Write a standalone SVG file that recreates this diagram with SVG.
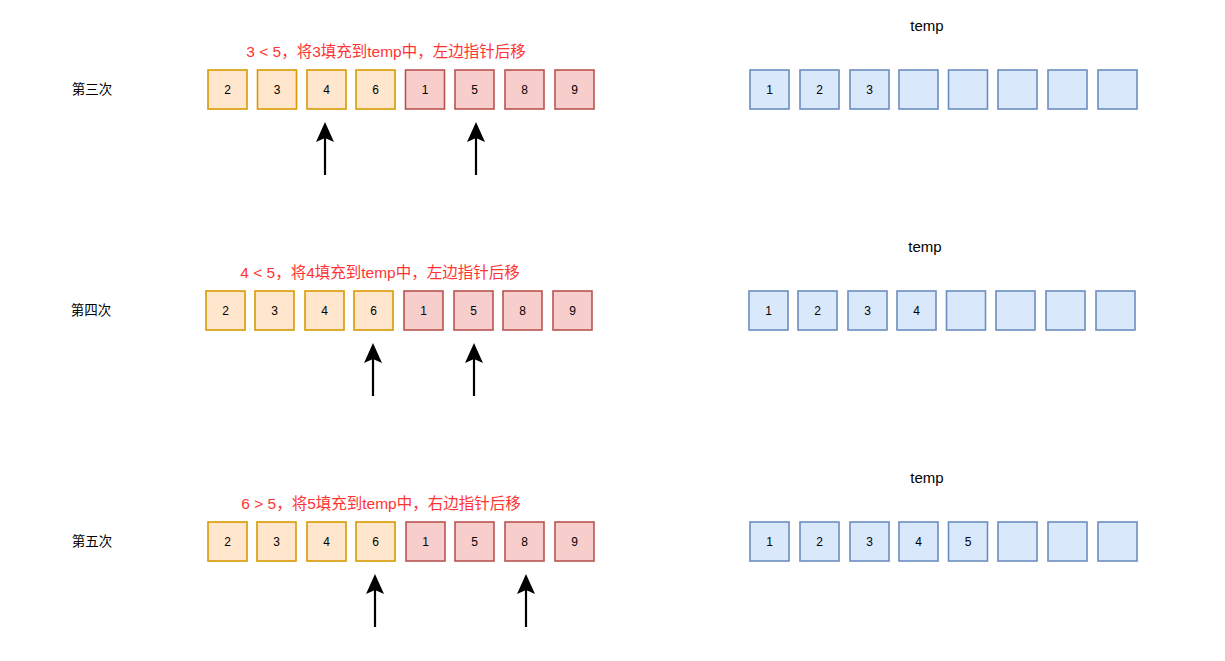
<svg xmlns="http://www.w3.org/2000/svg" width="1225" height="661" viewBox="0 0 1225 661">
<defs>
<style>
.o{fill:#ffe6cc;stroke:#d79b00;stroke-width:1.6}
.r{fill:#f8cecc;stroke:#b85450;stroke-width:1.6}
.b{fill:#dae8fc;stroke:#6c8ebf;stroke-width:1.6}
.t{font-family:"Liberation Sans",Arial,sans-serif;font-size:12px;fill:#000;text-anchor:middle;dominant-baseline:central}
.lbl{font-family:"Liberation Sans","Noto Sans CJK SC",sans-serif;font-size:13.5px;fill:#000;text-anchor:middle;dominant-baseline:central}
.red{font-family:"Liberation Sans","Noto Sans CJK SC",sans-serif;font-size:15.5px;fill:#ff3333;text-anchor:middle;dominant-baseline:central}
.tmp{font-family:"Liberation Sans",Arial,sans-serif;font-size:15px;fill:#000;text-anchor:middle;dominant-baseline:central}
.ar{stroke:#000;stroke-width:2.2;fill:none}
</style>
<polygon id="head" points="0,0 -9,20 0,16 9,20" fill="#000"/>
</defs>

<!-- Row 1 -->
<g id="row1">
<text class="lbl" x="92" y="89">第三次</text>
<text class="red" x="386" y="51">3 &lt; 5，将3填充到temp中，左边指针后移</text>
<g id="r1a"><rect class="o" x="208" y="70" width="39" height="39"/><text class="t" x="227.5" y="89.5">2</text></g>
<g id="r1b"><rect class="o" x="257.5" y="70" width="39" height="39"/><text class="t" x="277" y="89.5">3</text></g>
<g id="r1c"><rect class="o" x="307" y="70" width="39" height="39"/><text class="t" x="326.5" y="89.5">4</text></g>
<g id="r1d"><rect class="o" x="356" y="70" width="39" height="39"/><text class="t" x="375.5" y="89.5">6</text></g>
<g id="r1e"><rect class="r" x="405.5" y="70" width="39" height="39"/><text class="t" x="425" y="89.5">1</text></g>
<g id="r1f"><rect class="r" x="455" y="70" width="39" height="39"/><text class="t" x="474.5" y="89.5">5</text></g>
<g id="r1g"><rect class="r" x="505" y="70" width="39" height="39"/><text class="t" x="524.5" y="89.5">8</text></g>
<g id="r1h"><rect class="r" x="555" y="70" width="39" height="39"/><text class="t" x="574.5" y="89.5">9</text></g>
<text class="tmp" x="927" y="25">temp</text>
<g id="t1a"><rect class="b" x="750" y="70" width="39" height="39"/><text class="t" x="769.5" y="89.5">1</text></g>
<g id="t1b"><rect class="b" x="800" y="70" width="39" height="39"/><text class="t" x="819.5" y="89.5">2</text></g>
<g id="t1c"><rect class="b" x="850" y="70" width="39" height="39"/><text class="t" x="869.5" y="89.5">3</text></g>
<g id="t1d"><rect class="b" x="899" y="70" width="39" height="39"/></g>
<g id="t1e"><rect class="b" x="948.5" y="70" width="39" height="39"/></g>
<g id="t1f"><rect class="b" x="998" y="70" width="39" height="39"/></g>
<g id="t1g"><rect class="b" x="1048" y="70" width="39" height="39"/></g>
<g id="t1h"><rect class="b" x="1098" y="70" width="39" height="39"/></g>
</g>

<!-- Row 2 -->
<g id="row2">
<text class="lbl" x="91" y="310">第四次</text>
<text class="red" x="380" y="272">4 &lt; 5，将4填充到temp中，左边指针后移</text>
<g id="r2a"><rect class="o" x="206" y="291" width="39" height="39"/><text class="t" x="225.5" y="310.5">2</text></g>
<g id="r2b"><rect class="o" x="255" y="291" width="39" height="39"/><text class="t" x="274.5" y="310.5">3</text></g>
<g id="r2c"><rect class="o" x="305" y="291" width="39" height="39"/><text class="t" x="324.5" y="310.5">4</text></g>
<g id="r2d"><rect class="o" x="354" y="291" width="39" height="39"/><text class="t" x="373.5" y="310.5">6</text></g>
<g id="r2e"><rect class="r" x="404" y="291" width="39" height="39"/><text class="t" x="423.5" y="310.5">1</text></g>
<g id="r2f"><rect class="r" x="454" y="291" width="39" height="39"/><text class="t" x="473.5" y="310.5">5</text></g>
<g id="r2g"><rect class="r" x="503" y="291" width="39" height="39"/><text class="t" x="522.5" y="310.5">8</text></g>
<g id="r2h"><rect class="r" x="553" y="291" width="39" height="39"/><text class="t" x="572.5" y="310.5">9</text></g>
<text class="tmp" x="925" y="246">temp</text>
<g id="t2a"><rect class="b" x="749" y="291" width="39" height="39"/><text class="t" x="768.5" y="310.5">1</text></g>
<g id="t2b"><rect class="b" x="798" y="291" width="39" height="39"/><text class="t" x="817.5" y="310.5">2</text></g>
<g id="t2c"><rect class="b" x="848" y="291" width="39" height="39"/><text class="t" x="867.5" y="310.5">3</text></g>
<g id="t2d"><rect class="b" x="897" y="291" width="39" height="39"/><text class="t" x="916.5" y="310.5">4</text></g>
<g id="t2e"><rect class="b" x="946.5" y="291" width="39" height="39"/></g>
<g id="t2f"><rect class="b" x="996" y="291" width="39" height="39"/></g>
<g id="t2g"><rect class="b" x="1046" y="291" width="39" height="39"/></g>
<g id="t2h"><rect class="b" x="1096" y="291" width="39" height="39"/></g>
</g>

<!-- Row 3 -->
<g id="row3">
<text class="lbl" x="92" y="541">第五次</text>
<text class="red" x="381" y="503">6 &gt; 5，将5填充到temp中，右边指针后移</text>
<g id="r3a"><rect class="o" x="208" y="522" width="39" height="39"/><text class="t" x="227.5" y="541.5">2</text></g>
<g id="r3b"><rect class="o" x="257" y="522" width="39" height="39"/><text class="t" x="276.5" y="541.5">3</text></g>
<g id="r3c"><rect class="o" x="307" y="522" width="39" height="39"/><text class="t" x="326.5" y="541.5">4</text></g>
<g id="r3d"><rect class="o" x="356" y="522" width="39" height="39"/><text class="t" x="375.5" y="541.5">6</text></g>
<g id="r3e"><rect class="r" x="406" y="522" width="39" height="39"/><text class="t" x="425.5" y="541.5">1</text></g>
<g id="r3f"><rect class="r" x="455" y="522" width="39" height="39"/><text class="t" x="474.5" y="541.5">5</text></g>
<g id="r3g"><rect class="r" x="505" y="522" width="39" height="39"/><text class="t" x="524.5" y="541.5">8</text></g>
<g id="r3h"><rect class="r" x="555" y="522" width="39" height="39"/><text class="t" x="574.5" y="541.5">9</text></g>
<text class="tmp" x="927" y="477">temp</text>
<g id="t3a"><rect class="b" x="750" y="522" width="39" height="39"/><text class="t" x="769.5" y="541.5">1</text></g>
<g id="t3b"><rect class="b" x="800" y="522" width="39" height="39"/><text class="t" x="819.5" y="541.5">2</text></g>
<g id="t3c"><rect class="b" x="850" y="522" width="39" height="39"/><text class="t" x="869.5" y="541.5">3</text></g>
<g id="t3d"><rect class="b" x="899" y="522" width="39" height="39"/><text class="t" x="918.5" y="541.5">4</text></g>
<g id="t3e"><rect class="b" x="948.5" y="522" width="39" height="39"/><text class="t" x="968" y="541.5">5</text></g>
<g id="t3f"><rect class="b" x="998" y="522" width="39" height="39"/></g>
<g id="t3g"><rect class="b" x="1048" y="522" width="39" height="39"/></g>
<g id="t3h"><rect class="b" x="1098" y="522" width="39" height="39"/></g>
</g>

<!-- Pointer arrows -->
<g id="connectors">
<line class="ar" x1="325" y1="175" x2="325" y2="135"/><use href="#head" x="325" y="122"/>
<line class="ar" x1="476" y1="175" x2="476" y2="135"/><use href="#head" x="476" y="122"/>
<line class="ar" x1="373" y1="396" x2="373" y2="356"/><use href="#head" x="373" y="343"/>
<line class="ar" x1="474" y1="396" x2="474" y2="356"/><use href="#head" x="474" y="343"/>
<line class="ar" x1="375" y1="627" x2="375" y2="587"/><use href="#head" x="375" y="574"/>
<line class="ar" x1="526" y1="627" x2="526" y2="587"/><use href="#head" x="526" y="574"/>
</g>
</svg>
